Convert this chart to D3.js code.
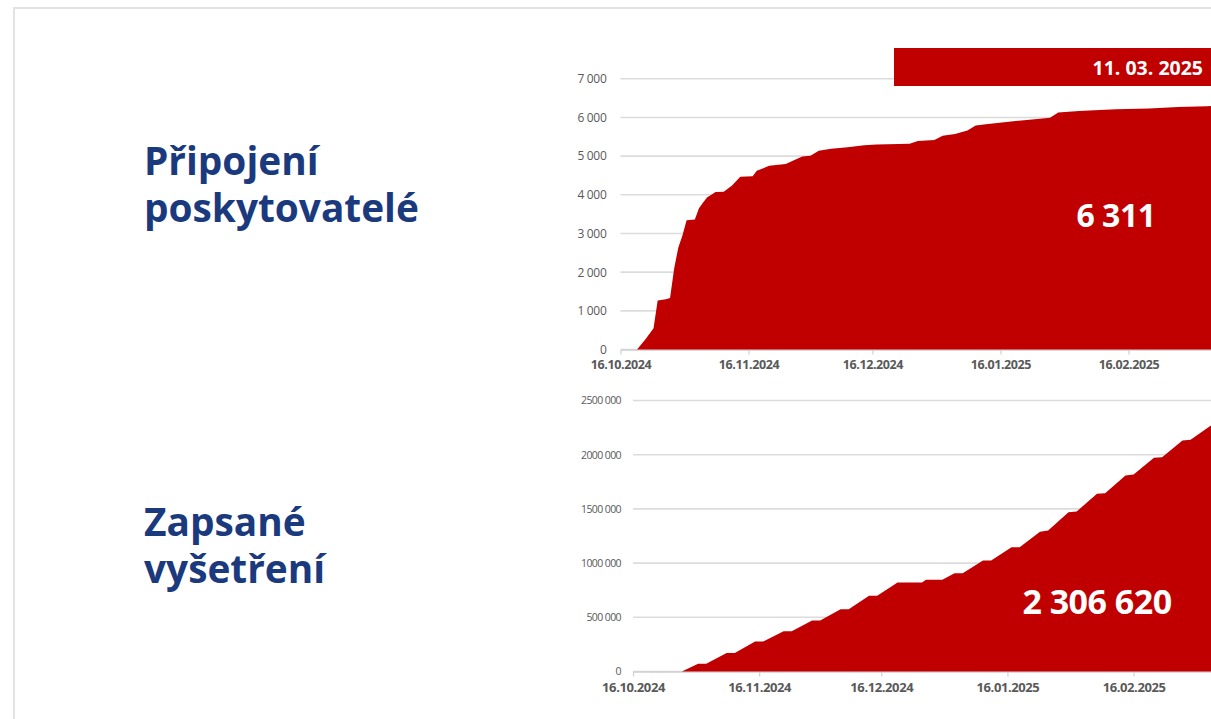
<!DOCTYPE html>
<html lang="cs">
<head>
<meta charset="utf-8">
<title>Připojení poskytovatelé a zapsané vyšetření</title>
<script src="https://cdn.jsdelivr.net/npm/d3@7"></script>
<style>
  html, body { margin: 0; padding: 0; background: #ffffff; overflow: hidden; }
  svg { display: block; }
</style>
</head>
<body>
<svg id="chart" width="1211" height="719"></svg>
<script>
// Připojení poskytovatelé – cumulative count of connected providers
const providerDates = [
  "2024-10-16","2024-10-20","2024-10-22","2024-10-24","2024-10-25","2024-10-27","2024-10-28",
  "2024-10-29","2024-10-30","2024-10-31","2024-11-01","2024-11-03","2024-11-04","2024-11-05",
  "2024-11-06","2024-11-07","2024-11-08","2024-11-10","2024-11-12","2024-11-14","2024-11-17",
  "2024-11-18","2024-11-21","2024-11-25","2024-11-29","2024-12-01","2024-12-03","2024-12-06",
  "2024-12-10","2024-12-14","2024-12-17","2024-12-25","2024-12-27","2024-12-31","2025-01-02",
  "2025-01-05","2025-01-08","2025-01-10","2025-01-13","2025-01-18","2025-01-23","2025-01-28",
  "2025-01-30","2025-02-04","2025-02-09","2025-02-13","2025-02-21","2025-02-28","2025-03-07",
  "2025-03-11"
];
const providerValues = [
  0, 0, 260, 550, 1270, 1300, 1330,
  2100, 2640, 2950, 3340, 3360, 3650, 3800,
  3940, 4000, 4070, 4080, 4240, 4470, 4480,
  4620, 4750, 4800, 4990, 5010, 5140, 5190,
  5230, 5280, 5300, 5320, 5390, 5420, 5530,
  5570, 5660, 5790, 5830, 5890, 5940, 5990,
  6130, 6170, 6190, 6210, 6230, 6270, 6290,
  6311
];

// Zapsané vyšetření – cumulative count of recorded examinations
const examDates = [
  "2024-10-16","2024-10-28","2024-11-01","2024-11-03","2024-11-08","2024-11-10","2024-11-15",
  "2024-11-17","2024-11-22","2024-11-24","2024-11-29","2024-12-01","2024-12-06","2024-12-08",
  "2024-12-13","2024-12-15","2024-12-20","2024-12-26","2024-12-27","2024-12-31","2025-01-03",
  "2025-01-05","2025-01-10","2025-01-12","2025-01-17","2025-01-19","2025-01-24","2025-01-26",
  "2025-01-31","2025-02-02","2025-02-07","2025-02-09","2025-02-14","2025-02-16","2025-02-21",
  "2025-02-23","2025-02-28","2025-03-02","2025-03-07","2025-03-09","2025-03-11"
];
const examValues = [
  0, 0, 71000, 71000, 170000, 170000, 277000,
  277000, 372000, 372000, 470000, 470000, 575000, 575000,
  698000, 698000, 821000, 821000, 846000, 846000, 907000,
  907000, 1024000, 1024000, 1147000, 1147000, 1290000, 1300000,
  1470000, 1476000, 1639000, 1645000, 1808000, 1817000, 1971000,
  1977000, 2131000, 2137000, 2270000, 2275000, 2306620
];

// Axis ticks and labels (the axis itself runs on to 16.03.2025)
const axisEnd = "2025-03-16";
const xTickDates = ["2024-10-16","2024-11-16","2024-12-16","2025-01-16","2025-02-16"];
const providerYTicks = [0, 1000, 2000, 3000, 4000, 5000, 6000, 7000];
const providerYLabels = ["0","1 000","2 000","3 000","4 000","5 000","6 000","7 000"];
const examYTicks = [0, 500000, 1000000, 1500000, 2000000, 2500000];
const examYLabels = ["0","500 000","1000 000","1500 000","2000 000","2500 000"];

// Text content
const titles = [["Připojení", "poskytovatelé"], ["Zapsané", "vyšetření"]];
const reportDate = "11. 03. 2025";
const providerTotal = "6 311";
const examTotal = "2 306 620";

const RED = "#c00000";
const NAVY = "#1b3a7e";
const GRID = "#dcdcdc";
const LABEL = "#595959";
const FONT = "'Open Sans', 'Noto Sans', sans-serif";

const parse = d3.utcParse("%Y-%m-%d");
const fmtDate = d3.utcFormat("%d.%m.%Y");
const svg = d3.select("#chart");
const W = 1211;

// Slide frame
svg.append("path")
  .attr("d", "M14,720 L14,8 L1212,8")
  .attr("fill", "none")
  .attr("stroke", "#e2e2e2")
  .attr("stroke-width", 2);

// Left titles, one text element per line
const titleBaselines = [175, 536];
titles.forEach((lines, i) => {
  lines.forEach((line, j) => {
    svg.append("text")
      .attr("x", 144)
      .attr("y", titleBaselines[i] + j * 47)
      .attr("font-family", FONT)
      .attr("font-weight", 700)
      .attr("font-size", 38.8)
      .attr("fill", NAVY)
      .text(line);
  });
});

function drawPanel(opt) {
  const dates = opt.dates.map(parse);
  const start = parse(xTickDates[0]);
  const end = parse(axisEnd);
  const days = (end - start) / 864e5;

  const x = d3.scaleUtc().domain([start, end])
    .range([opt.x0, opt.x0 + days * opt.pxPerDay]);
  const y = d3.scaleLinear().domain(opt.yDomain).range([opt.yBottom, opt.yTop]);

  const g = svg.append("g");

  // Horizontal gridlines
  g.append("g")
    .selectAll("line")
    .data(opt.yTicks)
    .join("line")
    .attr("x1", opt.x0)
    .attr("x2", W + 2)
    .attr("y1", d => y(d))
    .attr("y2", d => y(d))
    .attr("stroke", GRID)
    .attr("stroke-width", 1.6);

  // Y axis labels
  const yAxis = d3.axisLeft(y)
    .tickValues(opt.yTicks)
    .tickFormat((d, i) => opt.yLabels[i])
    .tickSize(0)
    .tickPadding(opt.yPad);
  const ya = g.append("g").attr("transform", `translate(${opt.x0},0)`).call(yAxis);
  ya.select(".domain").remove();
  ya.selectAll("text")
    .attr("font-family", FONT)
    .attr("font-size", opt.yFont)
    .attr("fill", LABEL)
    .attr("letter-spacing", opt.yLetter);

  // Cumulative area
  const series = dates.map((d, i) => ({ date: d, value: opt.values[i] }));
  const area = d3.area()
    .x(d => x(d.date))
    .y0(y(0))
    .y1(d => y(d.value))
    .curve(d3.curveLinear);

  // X axis with small ticks
  const xAxis = d3.axisBottom(x)
    .tickValues(xTickDates.map(parse))
    .tickFormat(fmtDate)
    .tickSizeInner(5)
    .tickSizeOuter(0)
    .tickPadding(6);
  const xa = g.append("g").attr("transform", `translate(0,${y(0)})`).call(xAxis);
  xa.select(".domain").attr("stroke", "#d0d0d0").attr("stroke-width", 1.5);
  xa.selectAll(".tick line").attr("stroke", "#d0d0d0").attr("stroke-width", 1.2);
  xa.selectAll("text")
    .attr("font-family", FONT)
    .attr("font-weight", 700)
    .attr("font-size", opt.xFont)
    .attr("fill", LABEL)
    .attr("letter-spacing", -0.4);

  g.append("path")
    .datum(series)
    .attr("d", area)
    .attr("fill", RED);

  // Total printed on the area
  g.append("text")
    .attr("x", opt.totalX)
    .attr("y", opt.totalY)
    .attr("text-anchor", "middle")
    .attr("font-family", FONT)
    .attr("font-weight", 700)
    .attr("font-size", opt.totalSize)
    .attr("fill", "#ffffff")
    .attr("letter-spacing", -0.5)
    .text(opt.total);
}

drawPanel({
  dates: providerDates, values: providerValues,
  yTicks: providerYTicks, yLabels: providerYLabels, yDomain: [0, 7000],
  x0: 620.5, pxPerDay: 4.13, yBottom: 349.5, yTop: 78.8,
  yPad: 14, yFont: 12, yLetter: -0.3, xFont: 12.5,
  total: providerTotal, totalX: 1116, totalY: 227, totalSize: 32
});

drawPanel({
  dates: examDates, values: examValues,
  yTicks: examYTicks, yLabels: examYLabels, yDomain: [0, 2500000],
  x0: 633, pxPerDay: 4.07, yBottom: 671.5, yTop: 400.5,
  yPad: 12, yFont: 10.5, yLetter: -0.6, xFont: 13,
  total: examTotal, totalX: 1097, totalY: 614, totalSize: 34
});

// Report date banner
svg.append("rect")
  .attr("x", 894).attr("y", 48)
  .attr("width", W - 894 + 2).attr("height", 38)
  .attr("fill", RED);
svg.append("text")
  .attr("x", 1203).attr("y", 75)
  .attr("text-anchor", "end")
  .attr("font-family", FONT)
  .attr("font-weight", 700)
  .attr("font-size", 19.5)
  .attr("fill", "#ffffff")
  .text(reportDate);
</script>
</body>
</html>
